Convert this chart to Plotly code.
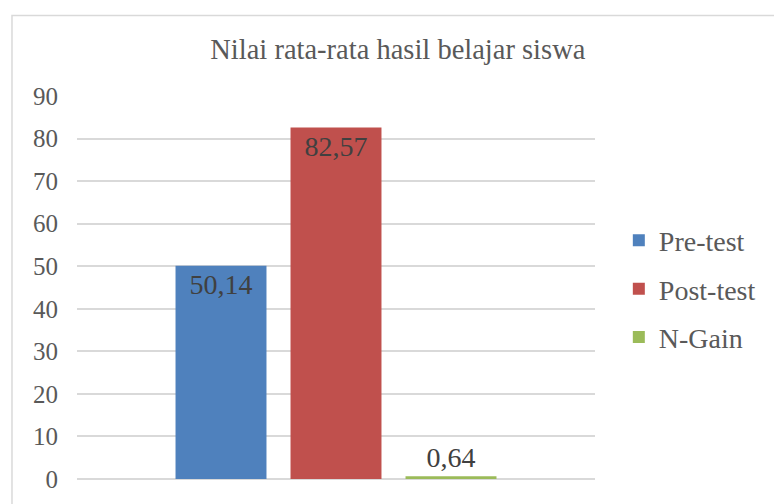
import plotly.graph_objects as go

categories = ["Nilai"]
series_names = ["Pre-test", "Post-test", "N-Gain"]
series_values = [50.14, 82.57, 0.64]
series_colors = ["#4F81BD", "#C0504D", "#9BBB59"]
text_positions = ["inside", "inside", "outside"]
y_ticks = [0, 10, 20, 30, 40, 50, 60, 70, 80, 90]

FONT = "Liberation Serif"

fig = go.Figure()
for name, val, col, tp in zip(series_names, series_values, series_colors, text_positions):
    fig.add_trace(go.Bar(
        x=categories, y=[val], name=name, legendgroup=name,
        marker=dict(color=col, line=dict(width=0)),
        texttemplate="%{y:.2f}", textposition=tp, insidetextanchor="end",
        textfont=dict(family=FONT, size=28, color="#404040"),
        cliponaxis=False,
    ))

fig.update_layout(
    width=774, height=504,
    margin=dict(l=77, r=179, t=96, b=25, autoexpand=False),
    paper_bgcolor="white", plot_bgcolor="white",
    separators=",.",
    barmode="group", bargap=0.334, bargroupgap=0.209,
    title=dict(text="Nilai rata-rata hasil belajar siswa", x=0.514, xanchor="center",
               y=1 - 49 / 504, yanchor="middle",
               font=dict(family=FONT, size=28.5, color="#595959")),
    xaxis=dict(showticklabels=False, showgrid=False, zeroline=False, showline=False),
    yaxis=dict(range=[0, 90], tickvals=y_ticks, showgrid=True, gridcolor="#D9D9D9",
               gridwidth=2, zeroline=True, zerolinecolor="#D9D9D9", zerolinewidth=2,
               tickfont=dict(family=FONT, size=25, color="#595959"), ticks="",
               ticklabelstandoff=18, automargin=False),
    legend=dict(x=1.046, xanchor="left", y=0.496, yanchor="middle",
                font=dict(family=FONT, size=28, color="#595959"),
                traceorder="grouped", tracegroupgap=9, itemwidth=30),
    showlegend=True,
    shapes=[dict(type="rect", xref="paper", yref="paper", x0=-0.1255, x1=1.6, y0=-0.3, y1=1.21,
                 line=dict(color="#D9D9D9", width=1.5), fillcolor="rgba(0,0,0,0)", layer="below")],
)
fig.write_html("out.html", config={"displayModeBar": False},
               post_script="document.body.style.margin='0';document.body.style.overflow='hidden';")
